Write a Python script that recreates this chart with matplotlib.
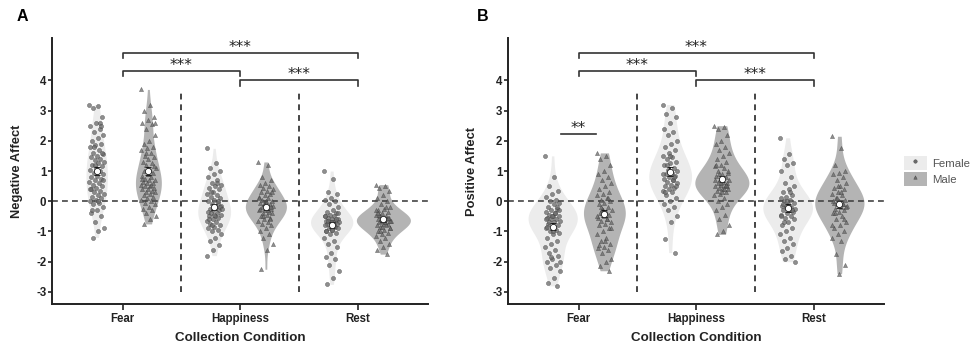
import numpy as np
import matplotlib
matplotlib.use('Agg')
import matplotlib.pyplot as plt
from matplotlib.patches import Patch
from matplotlib.lines import Line2D

plt.rcParams['font.family'] = ['Liberation Sans', 'DejaVu Sans']
plt.rcParams['axes.unicode_minus'] = False

conditions = ['Fear', 'Happiness', 'Rest']
sexes = ['Female', 'Male']

# Negative Affect (panel A)
neg_fear_f = [3.2, 3.15, 3.1, 2.8, 2.6, 2.5, 2.4, 2.3, 2.2, 2.1, 2.0, 1.9, 1.85, 1.8, 1.7, 1.6, 1.55, 1.5,
              1.45, 1.4, 1.35, 1.3, 1.25, 1.2, 1.15, 1.1, 1.05, 1.0, 0.95, 0.9, 0.85, 0.8, 0.75, 0.7, 0.65,
              0.6, 0.55, 0.5, 0.45, 0.4, 0.35, 0.3, 0.25, 0.2, 0.15, 0.1, 0.05, 0.0, -0.05, -0.1, -0.2, -0.3,
              -0.4, -0.5, -0.7, -0.9, -1.0, -1.2, 1.6, 1.0, 0.4, 2.6, 1.8, 0.7, 0.0, -0.3, 2.5, 1.2]
neg_fear_m = [3.7, 3.2, 3.0, 2.8, 2.7, 2.6, 2.55, 2.4, 2.2, 2.0, 1.9, 1.8, 1.75, 1.7, 1.6, 1.5, 1.45, 1.4,
              1.3, 1.25, 1.2, 1.1, 1.05, 1.0, 0.95, 0.9, 0.85, 0.8, 0.75, 0.7, 0.7, 0.65, 0.6, 0.6, 0.55, 0.5,
              0.5, 0.45, 0.4, 0.4, 0.35, 0.3, 0.3, 0.25, 0.2, 0.15, 0.1, 0.05, 0.0, -0.05, -0.1, -0.2, -0.25,
              -0.3, -0.4, -0.5, -0.6, -0.75, 1.15, 0.9, 0.75, 0.55, 1.6, 2.6]
neg_happy_f = [1.75, 1.25, 1.1, 1.0, 0.9, 0.8, 0.7, 0.6, 0.55, 0.5, 0.45, 0.4, 0.3, 0.25, 0.2, 0.15, 0.1,
               0.05, 0.0, -0.05, -0.1, -0.15, -0.2, -0.25, -0.3, -0.3, -0.35, -0.4, -0.4, -0.45, -0.5, -0.5,
               -0.55, -0.6, -0.65, -0.7, -0.75, -0.8, -0.85, -0.9, -0.95, -1.0, -1.1, -1.2, -1.3, -1.45, -1.6,
               -1.8, 0.6, 0.3, -0.2, -0.45, -0.6, 0.0, -0.8, -0.25]
neg_happy_m = [1.3, 1.2, 0.8, 0.7, 0.6, 0.55, 0.5, 0.45, 0.4, 0.35, 0.3, 0.25, 0.2, 0.15, 0.1, 0.05, 0.0, 0.0,
               -0.05, -0.1, -0.1, -0.15, -0.2, -0.2, -0.25, -0.3, -0.3, -0.35, -0.4, -0.4, -0.45, -0.5, -0.55,
               -0.6, -0.65, -0.7, -0.75, -0.8, -0.9, -1.0, -1.1, -1.2, -1.4, -1.6, -2.25, -0.2, -0.1, 0.1,
               -0.3, -0.5, 0.3, -0.05, -0.25, -0.6]
neg_rest_f = [1.0, 0.75, 0.3, 0.25, 0.1, 0.05, 0.0, -0.1, -0.2, -0.3, -0.35, -0.4, -0.45, -0.5, -0.5, -0.55,
              -0.6, -0.6, -0.65, -0.65, -0.7, -0.7, -0.7, -0.75, -0.75, -0.8, -0.8, -0.85, -0.9, -0.9, -0.95,
              -1.0, -1.05, -1.1, -1.2, -1.3, -1.4, -1.5, -1.7, -1.85, -1.9, -2.1, -2.3, -2.55, -2.75, -0.6,
              -0.7, -0.5, -0.8, -0.65, -0.4, -0.95, -1.0]
neg_rest_m = [0.55, 0.5, 0.45, 0.35, 0.2, 0.1, 0.0, -0.1, -0.2, -0.25, -0.3, -0.35, -0.4, -0.45, -0.5, -0.5,
              -0.55, -0.55, -0.6, -0.6, -0.65, -0.65, -0.7, -0.7, -0.75, -0.75, -0.8, -0.8, -0.85, -0.9,
              -0.95, -1.0, -1.05, -1.1, -1.15, -1.2, -1.3, -1.4, -1.5, -1.6, -1.75, -0.6, -0.65, -0.7, -0.45,
              -0.55, -0.85, -0.3, -0.2, -1.0, -0.9, -0.6, -0.4]

# Positive Affect (panel B)
pos_fear_f = [1.5, 0.8, 0.5, 0.35, 0.25, 0.15, 0.05, 0.0, -0.05, -0.1, -0.2, -0.25, -0.3, -0.35, -0.4, -0.45,
              -0.5, -0.5, -0.55, -0.6, -0.6, -0.65, -0.7, -0.75, -0.8, -0.85, -0.9, -0.95, -1.0, -1.05, -1.1,
              -1.2, -1.3, -1.4, -1.5, -1.6, -1.7, -1.8, -1.9, -2.0, -2.1, -2.2, -2.3, -2.55, -2.7, -2.8, -0.5,
              -0.6, -0.4, -0.7, -0.3, -1.0, -0.85, -0.2, -1.85, -2.0]
pos_fear_m = [1.6, 1.5, 1.4, 1.2, 1.0, 0.9, 0.8, 0.7, 0.6, 0.5, 0.4, 0.3, 0.25, 0.2, 0.1, 0.05, 0.0, -0.05,
              -0.1, -0.2, -0.25, -0.3, -0.35, -0.4, -0.45, -0.5, -0.55, -0.6, -0.65, -0.7, -0.75, -0.8, -0.9,
              -1.0, -1.1, -1.2, -1.3, -1.4, -1.5, -1.55, -1.6, -1.7, -1.9, -2.0, -2.15, -2.3, -0.3, -0.5,
              -0.6, -0.2, -0.9, -1.3, -1.45, 0.1, -0.4]
pos_happy_f = [3.2, 3.1, 2.9, 2.8, 2.6, 2.4, 2.3, 2.2, 2.0, 1.9, 1.8, 1.7, 1.6, 1.5, 1.45, 1.4, 1.3, 1.25, 1.2,
               1.1, 1.05, 1.0, 0.95, 0.9, 0.85, 0.8, 0.75, 0.7, 0.65, 0.6, 0.55, 0.5, 0.45, 0.4, 0.35, 0.3,
               0.2, 0.1, 0.0, -0.1, -0.2, -0.3, -0.5, -0.7, -1.25, -1.7, 1.0, 0.9, 0.7, 1.2, 0.5, 1.5, 0.3, 0.8]
pos_happy_m = [2.5, 2.45, 2.4, 2.2, 2.0, 1.9, 1.8, 1.7, 1.6, 1.5, 1.4, 1.3, 1.2, 1.15, 1.1, 1.0, 0.95, 0.9,
               0.85, 0.8, 0.75, 0.7, 0.65, 0.6, 0.6, 0.55, 0.5, 0.5, 0.45, 0.4, 0.4, 0.35, 0.3, 0.25, 0.2, 0.1,
               0.0, -0.1, -0.2, -0.3, -0.45, -0.6, -0.8, -1.0, -1.1, 0.5, 0.6, 0.7, 0.4, 0.9, 1.0, 0.3, 1.2, 0.55]
pos_rest_f = [2.1, 1.55, 1.4, 1.25, 1.2, 1.0, 0.8, 0.6, 0.5, 0.4, 0.3, 0.2, 0.15, 0.1, 0.05, 0.0, -0.05, -0.1,
              -0.15, -0.2, -0.2, -0.25, -0.3, -0.3, -0.35, -0.4, -0.45, -0.5, -0.55, -0.6, -0.7, -0.8, -0.9,
              -1.0, -1.1, -1.2, -1.3, -1.4, -1.55, -1.65, -1.8, -1.9, -2.0, -0.2, -0.1, -0.3, 0.0, -0.5, 0.3, -0.7]
pos_rest_m = [2.15, 1.75, 1.2, 1.0, 0.95, 0.9, 0.8, 0.7, 0.6, 0.5, 0.45, 0.4, 0.3, 0.25, 0.2, 0.1, 0.05, 0.0,
              -0.05, -0.1, -0.1, -0.15, -0.2, -0.25, -0.3, -0.35, -0.4, -0.5, -0.6, -0.7, -0.8, -0.9, -1.0,
              -1.1, -1.2, -1.3, -1.75, -2.1, -2.4, 0.0, -0.1, 0.1, -0.2, 0.3, -0.4, -0.6, 0.5, -0.8]

neg_data = [[neg_fear_f, neg_fear_m], [neg_happy_f, neg_happy_m], [neg_rest_f, neg_rest_m]]
pos_data = [[pos_fear_f, pos_fear_m], [pos_happy_f, pos_happy_m], [pos_rest_f, pos_rest_m]]

# comparisons between conditions: (from, to, bracket y, label)
brackets = [(0, 2, 4.92, '***'), (0, 1, 4.3, '***'), (1, 2, 4.0, '***')]

violin_colors = ['#ececec', '#b4b4b4']
point_markers = ['o', '^']


def kde(values, grid):
    values = np.asarray(values, dtype=float)
    bw = values.std(ddof=1) * len(values) ** (-1 / 5)
    z = (grid[:, None] - values[None, :]) / bw
    return np.exp(-0.5 * z ** 2).sum(axis=1) / (len(values) * bw * np.sqrt(2 * np.pi))


def draw_panel(ax, data, ylabel, ylabel_x):
    dodge = 0.22
    # violins scaled by area, widest one gets half width 0.23
    shapes = []
    for ci, pair in enumerate(data):
        for si, vals in enumerate(pair):
            grid = np.linspace(min(vals), max(vals), 200)
            shapes.append((ci, si, grid, kde(vals, grid)))
    k = 0.23 / max(d.max() for _, _, _, d in shapes)
    for ci, si, grid, dens in shapes:
        xc = ci + (dodge if si else -dodge)
        ax.fill_betweenx(grid, xc - dens * k, xc + dens * k, color=violin_colors[si], lw=0, zorder=1)

    for ci, pair in enumerate(data):
        for si, vals in enumerate(pair):
            vals = np.asarray(vals)
            xc = ci + (dodge if si else -dodge)
            jit = ((np.arange(len(vals)) * 0.618034) % 1 - 0.5) * 0.13
            ax.scatter(xc + jit, vals, s=9, marker=point_markers[si], facecolor='#6a6a6a',
                       edgecolor='#333333', linewidths=0.3, alpha=0.75, zorder=3)
            se = vals.std(ddof=1) / np.sqrt(len(vals))
            ax.errorbar(xc, vals.mean(), yerr=se, fmt='o', ms=4.5, mfc='white', mec='#222222',
                        mew=0.6, ecolor='#111111', elinewidth=1.2, capsize=2.5, capthick=1.2, zorder=4)

    ax.axhline(0, color='#444444', lw=1.2, ls=(0, (3.5, 2.5)), zorder=2)
    for xv in [0.5, 1.5]:
        ax.plot([xv, xv], [-3, 3.7], color='#444444', lw=1.4, ls=(0, (3, 2.5)), zorder=2)

    for x0, x1, yb, lab in brackets:
        ax.plot([x0, x0, x1, x1], [yb - 0.17, yb, yb, yb - 0.17], color='#333333', lw=1.2,
                solid_joinstyle='round', zorder=2)
        ax.text((x0 + x1) / 2, yb - 0.07, lab, ha='center', va='bottom', fontsize=11,
                family='DejaVu Sans', color='#222222')

    ax.set_xlim(-0.6, 2.6)
    ax.set_ylim(-3.4, 5.4)
    ax.set_yticks(range(-3, 5))
    ax.set_xticks(range(3))
    ax.set_xticklabels(conditions)
    for s in ['top', 'right']:
        ax.spines[s].set_visible(False)
    for s in ['left', 'bottom']:
        ax.spines[s].set_linewidth(1.4)
        ax.spines[s].set_color('#222222')
    ax.tick_params(axis='x', length=4.5, width=1.2, pad=2, labelsize=8.3, colors='#222222')
    ax.tick_params(axis='y', length=3, width=1.2, pad=1, labelsize=8.3, colors='#222222')
    for t in ax.get_xticklabels() + ax.get_yticklabels():
        t.set_fontweight('bold')
    ax.set_ylabel(ylabel, fontsize=9.3, fontweight='bold', color='#222222')
    ax.yaxis.set_label_coords(ylabel_x, 0.5)
    ax.set_xlabel('Collection Condition', fontsize=9.6, fontweight='bold', color='#222222')
    ax.xaxis.set_label_coords(0.5, -0.105)


fig = plt.figure(figsize=(9.71, 3.46), dpi=100)
ax_a = fig.add_axes([0.0536, 0.1214, 0.3872, 0.7686])
ax_b = fig.add_axes([0.5232, 0.1214, 0.3872, 0.7686])

draw_panel(ax_a, neg_data, 'Negative Affect', -0.076)
draw_panel(ax_b, pos_data, 'Positive Affect', -0.08)

# sex difference in Fear, positive affect
ax_b.plot([-0.15, 0.15], [2.22, 2.22], color='#333333', lw=1.2)
ax_b.text(0, 2.15, '**', ha='center', va='bottom', fontsize=11, family='DejaVu Sans', color='#222222')

fig.text(0.0227, 0.951, 'A', fontsize=11.5, fontweight='bold', ha='center', va='center')
fig.text(0.497, 0.951, 'B', fontsize=11.5, fontweight='bold', ha='center', va='center')

handles = []
for si in range(2):
    box = Patch(facecolor=violin_colors[si], edgecolor='none')
    mk = Line2D([], [], ls='none', marker=point_markers[si], ms=2.5, mfc='#6a6a6a', mec='#444444', mew=0.3)
    handles.append((box, mk))
fig.legend(handles, sexes, loc='center left', bbox_to_anchor=(0.931, 0.506), frameon=False,
           fontsize=8.2, handlelength=2.0, handleheight=1.6, labelspacing=0.12, handletextpad=0.45,
           borderpad=0, borderaxespad=0, labelcolor='#555555')

fig.savefig('out.png', dpi=100)
